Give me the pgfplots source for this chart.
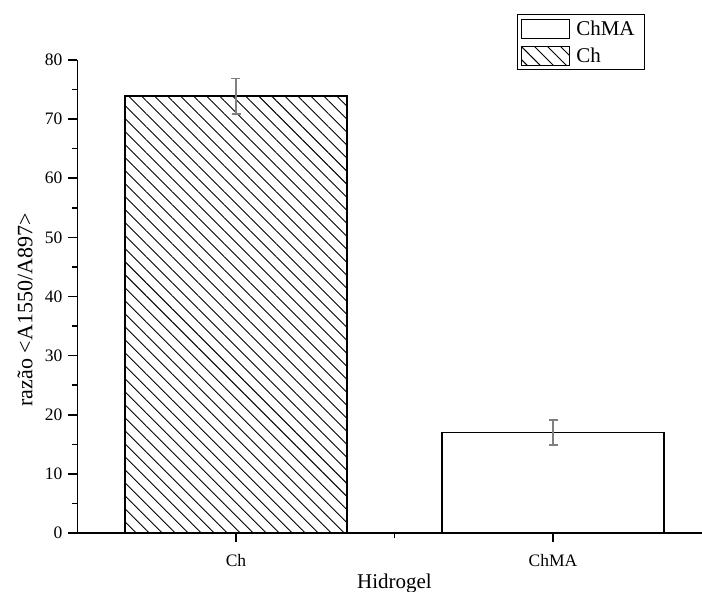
\documentclass[border=0pt]{standalone}
\usepackage{pgfplots}
\pgfplotsset{compat=1.18}
\usepackage{fontspec}
\setmainfont{Liberation Serif}
\usetikzlibrary{patterns.meta}

\begin{document}
\begin{tikzpicture}
\useasboundingbox (-77.5pt,-59pt) rectangle (624.5pt,533pt);
\begin{axis}[
  scale only axis, width=634pt, height=473pt,
  at={(0pt,0pt)}, anchor=south west,
  xmin=0.5, xmax=2.5, ymin=0, ymax=80,
  axis x line=bottom, axis y line=left,
  axis line style={-, line width=1.6pt},
  tick align=outside,
  major tick length=9pt, minor tick length=5pt,
  every tick/.style={black, line width=1.6pt},
  xtick={1,2}, xticklabels={Ch,ChMA}, minor xtick={1.5},
  ytick={0,10,...,80}, minor y tick num=1,
  /pgf/number format/assume math mode=true,
  tick label style={font=\fontsize{17.5}{20}\selectfont},
  yticklabel style={anchor=east, inner sep=0pt, xshift=-6pt},
  xticklabel style={anchor=base, inner sep=0pt, yshift=-24pt},
  xlabel={Hidrogel},
  ylabel={razão <A1550/A897>},
  every axis x label/.style={at={(axis cs:1.5,0)}, anchor=base, yshift=-55pt,
    font=\fontsize{21}{24}\selectfont},
  every axis y label/.style={at={(axis description cs:-0.0828,0.4715)}, rotate=90,
    anchor=center, font=\fontsize{22}{25}\selectfont},
  ybar, bar width=0.7,
  legend style={at={(rel axis cs:0.693,1.097)}, anchor=north west,
    draw=black, line width=0.8pt, inner sep=4pt, row sep=7pt,
    font=\fontsize{21}{24}\selectfont,
    nodes={inner ysep=0pt, inner xsep=6pt},
    cells={anchor=west}},
]
\addplot[draw=black, line width=1.4pt, fill=white, bar shift=0pt,
  error bars/.cd, y dir=both, y explicit,
  error bar style={gray, line width=1.5pt},
  error mark options={rotate=90, mark size=4.5pt, line width=1.5pt, gray}]
  coordinates {(2,17.0) +- (0,2.1)};
\addlegendentry{ChMA}
\addplot[draw=black, line width=1.4pt,
  pattern={Lines[angle=-45, distance=9.2pt, line width=0.9pt]}, bar shift=0pt,
  error bars/.cd, y dir=both, y explicit,
  error bar style={gray, line width=1.5pt},
  error mark options={rotate=90, mark size=4.5pt, line width=1.5pt, gray}]
  coordinates {(1,73.9) +- (0,3.0)};
\addlegendentry{Ch}
\pgfplotsset{legend image code/.code={\draw[#1, line width=1pt] (0pt,-9.5pt) rectangle (48pt,9.5pt);}}
\end{axis}
\end{tikzpicture}
\end{document}
